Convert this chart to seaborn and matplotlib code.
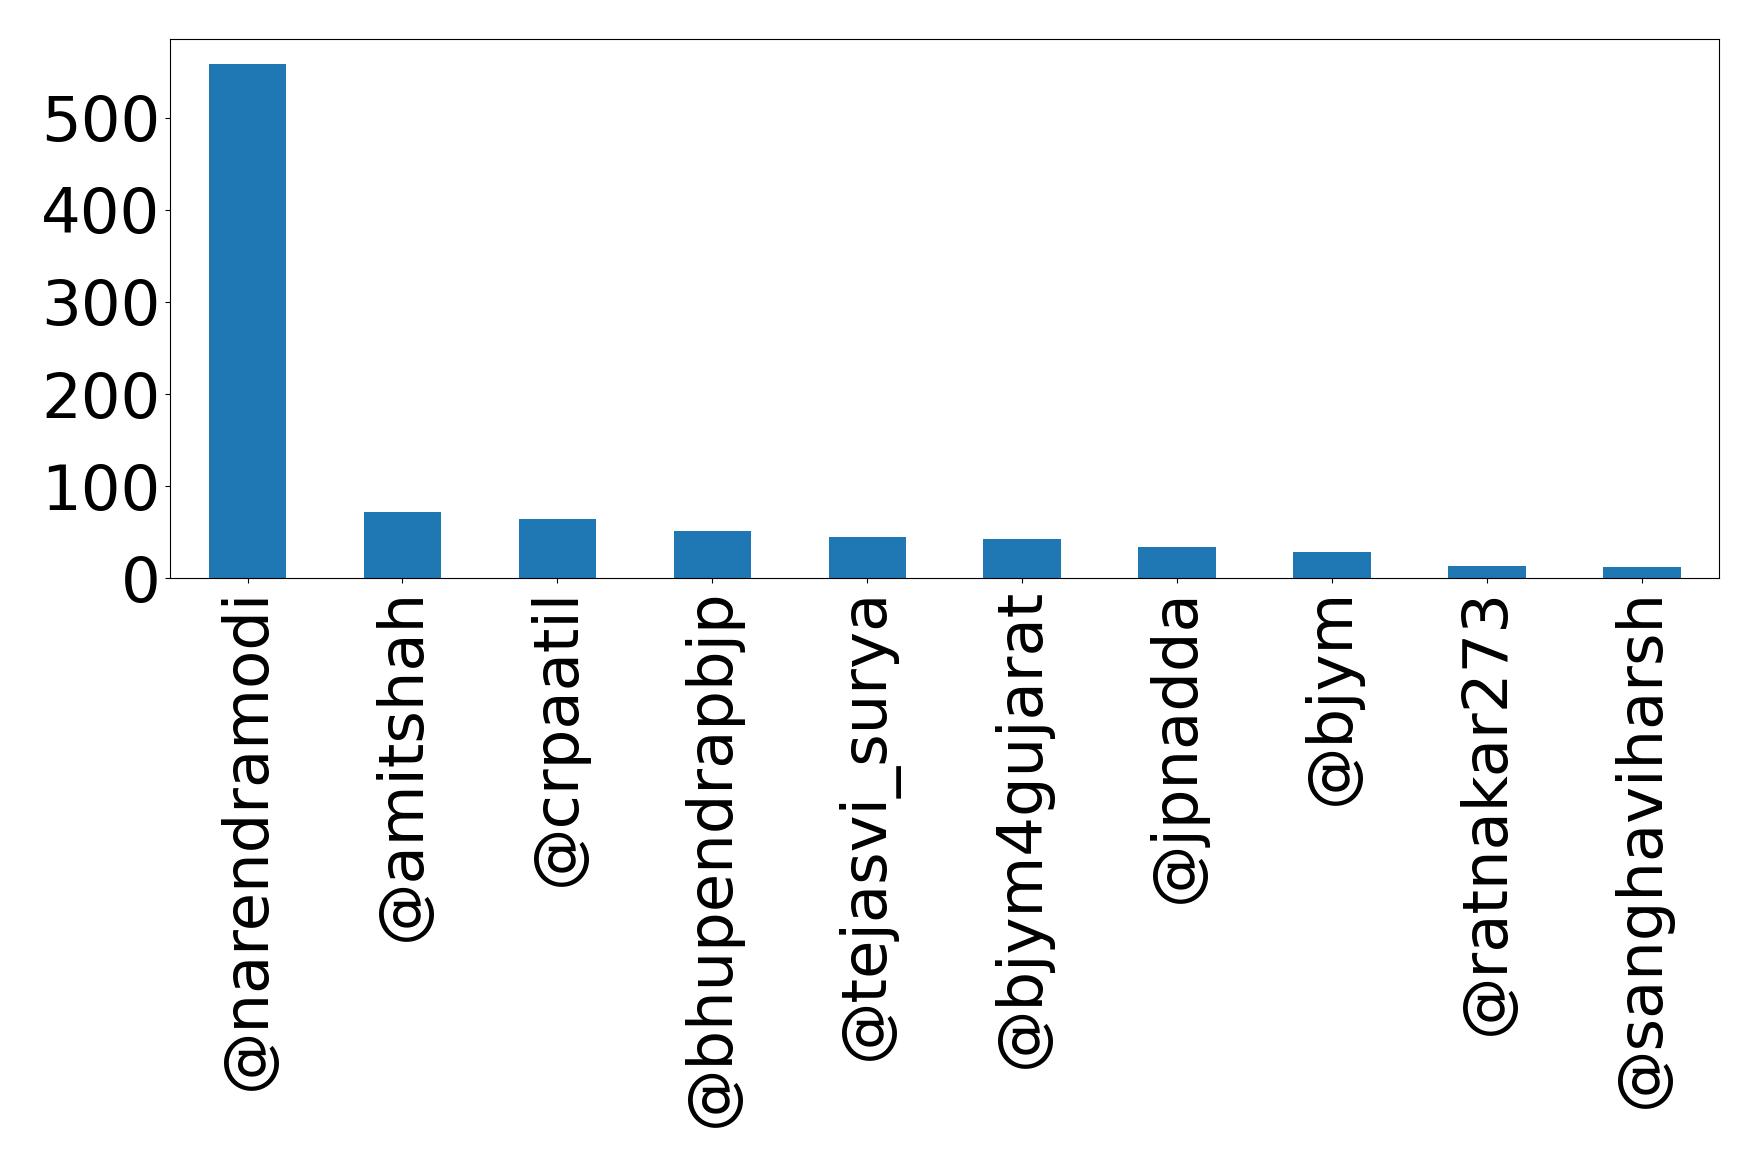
import matplotlib
matplotlib.use("Agg")
import matplotlib.pyplot as plt
import seaborn as sns
import pandas as pd

handles = ["@narendramodi", "@amitshah", "@crpaatil", "@bhupendrapbjp", "@tejasvi_surya",
           "@bjym4gujarat", "@jpnadda", "@bjym", "@ratnakar273", "@sanghaviharsh"]
counts = [558, 72, 64, 51, 45, 43, 34, 29, 13, 12]

df = pd.DataFrame({"handle": handles, "count": counts})

fig, ax = plt.subplots(figsize=(17.59, 11.67), dpi=100)
fig.subplots_adjust(left=0.0967, right=0.9775, top=0.967, bottom=0.5045)

sns.barplot(data=df, x="handle", y="count", order=handles, color="#1f77b4",
            saturation=1, width=0.5, ax=ax)
ax.set_xlim(-0.5, len(handles) - 0.5)
ax.set_ylim(0, max(counts) * 1.05)
ax.set_xlabel("")
ax.set_ylabel("")
ax.set_yticks([0, 100, 200, 300, 400, 500])
ax.tick_params(axis="both", labelsize=45)
plt.setp(ax.get_xticklabels(), rotation=90)
for s in ax.spines.values():
    s.set_visible(True)
    s.set_color("black")

fig.savefig("out.png", dpi=100)
